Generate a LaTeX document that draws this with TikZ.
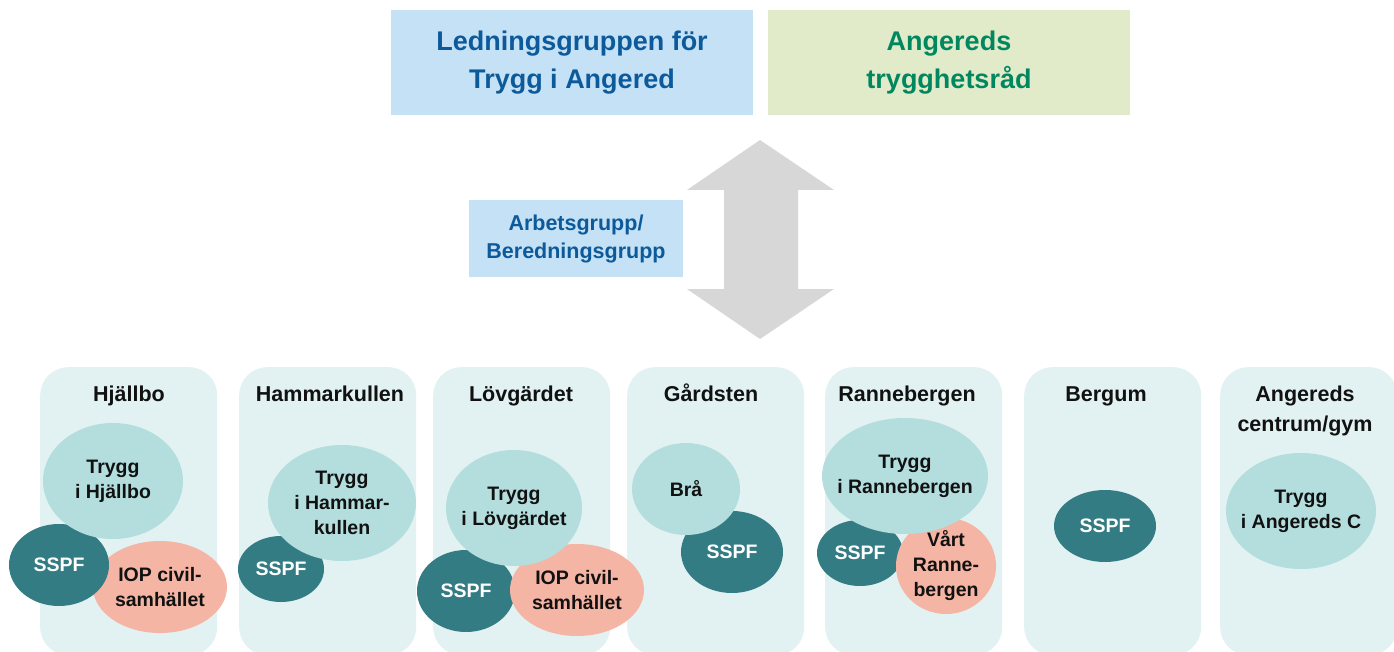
\documentclass[tikz,border=0pt]{standalone}
\usepackage{fontspec}
\setmainfont{Liberation Sans}
\usetikzlibrary{shapes.geometric}
\definecolor{topblue}{HTML}{C5E1F5}
\definecolor{topbluetext}{HTML}{0D5A9B}
\definecolor{topgreen}{HTML}{E1EBC9}
\definecolor{topgreentext}{HTML}{00875F}
\definecolor{arrowgray}{HTML}{D7D7D7}
\definecolor{colfill}{HTML}{E2F1F2}
\definecolor{lightteal}{HTML}{B4DEDE}
\definecolor{darkteal}{HTML}{347C84}
\definecolor{salmon}{HTML}{F5B5A5}
\definecolor{inktext}{HTML}{111111}
\begin{document}
\begin{tikzpicture}[x=1pt,y=-1pt,
  topbox/.style={rectangle, inner sep=0pt, minimum width=362pt, minimum height=105pt, align=center, font=\bfseries\fontsize{27}{38}\selectfont},
  workbox/.style={rectangle, fill=topblue, text=topbluetext, inner sep=0pt, minimum width=214pt, minimum height=77pt, align=center, font=\bfseries\fontsize{21.5}{28}\selectfont},
  colbox/.style={rectangle, fill=colfill, rounded corners=28pt, minimum width=177pt, minimum height=288pt, anchor=north west, inner sep=0pt},
  coltitle/.style={text=inktext, align=center, font=\bfseries\fontsize{21.5}{30}\selectfont, inner sep=0pt, anchor=base},
  blobtext/.style={align=center, inner sep=0pt, font=\bfseries\fontsize{19.5}{25}\selectfont},
  blob/.style={ellipse, inner sep=0pt},
  tryggblob/.style={blob, fill=lightteal, label={[blobtext, text=inktext]center:#1}},
  sspfblob/.style={blob, fill=darkteal, label={[blobtext, text=white]center:#1}},
  iopblob/.style={blob, fill=salmon, label={[blobtext, text=inktext]center:#1}},
]
\useasboundingbox (0,0) rectangle (1394,652);

% top boxes
\node[topbox, fill=topblue, text=topbluetext] (lg) at (572,62.5) {Ledningsgruppen för\\Trygg i Angered};
\node[topbox, fill=topgreen, text=topgreentext] (tr) at (949,62.5) {Angereds\\trygghetsråd};

% double arrow
\fill[arrowgray] (760,140) -- (834,190) -- (798,190) -- (798,289) -- (834,289) -- (760,339)
  -- (687,289) -- (724,289) -- (724,190) -- (687,190) -- cycle;

\node[workbox] (ab) at (576,238.5) {Arbetsgrupp/\\Beredningsgrupp};

% columns
\node[colbox] (c1) at (40,367) {};
\node[colbox] (c2) at (239,367) {};
\node[colbox] (c3) at (433,367) {};
\node[colbox] (c4) at (627,367) {};
\node[colbox] (c5) at (825,367) {};
\node[colbox] (c6) at (1024,367) {};
\node[colbox] (c7) at (1220,367) {};

% titles
\node[coltitle] (t1) at (129,401) {Hjällbo};
\node[coltitle] (t2) at (330,401) {Hammarkullen};
\node[coltitle] (t3) at (521,401) {Lövgärdet};
\node[coltitle] (t4) at (711,401) {Gårdsten};
\node[coltitle] (t5) at (907,401) {Rannebergen};
\node[coltitle] (t6) at (1106,401) {Bergum};
\node[coltitle] (t7) at (1305,431) {Angereds\\centrum/gym};

% Hjällbo
\node[iopblob={IOP civil-\\samhället}, minimum width=134pt, minimum height=92pt] (h3) at (160,587) {};
\node[sspfblob=SSPF, minimum width=100pt, minimum height=82pt] (h2) at (59,565) {};
\node[tryggblob={Trygg\\i Hjällbo}, minimum width=140pt, minimum height=116pt] (h1) at (113,481) {};

% Hammarkullen
\node[sspfblob=SSPF, minimum width=86pt, minimum height=66pt] (k2) at (281,569) {};
\node[tryggblob={Trygg\\i Hammar-\\kullen}, minimum width=148pt, minimum height=116pt] (k1) at (342,503) {};

% Lövgärdet
\node[sspfblob=SSPF, minimum width=98pt, minimum height=82pt] (l2) at (466,591) {};
\node[iopblob={IOP civil-\\samhället}, minimum width=134pt, minimum height=92pt] (l3) at (577,590) {};
\node[tryggblob={Trygg\\i Lövgärdet}, minimum width=136pt, minimum height=116pt] (l1) at (514,508) {};

% Gårdsten
\node[sspfblob=SSPF, minimum width=102pt, minimum height=82pt] (g2) at (732,552) {};
\node[tryggblob=Brå, minimum width=108pt, minimum height=92pt] (g1) at (686,489) {};

% Rannebergen
\node[sspfblob=SSPF, minimum width=86pt, minimum height=66pt] (r2) at (860,553) {};
\node[iopblob={Vårt\\Ranne-\\bergen}, minimum width=100pt, minimum height=96pt] (r3) at (946,566) {};
\node[tryggblob={Trygg\\i Rannebergen}, minimum width=166pt, minimum height=116pt] (r1) at (905,476) {};

% Bergum
\node[sspfblob=SSPF, minimum width=102pt, minimum height=72pt] (b2) at (1105,526) {};

% Angereds centrum
\node[tryggblob={Trygg\\i Angereds C}, minimum width=150pt, minimum height=116pt] (a1) at (1301,511) {};
\end{tikzpicture}
\end{document}
